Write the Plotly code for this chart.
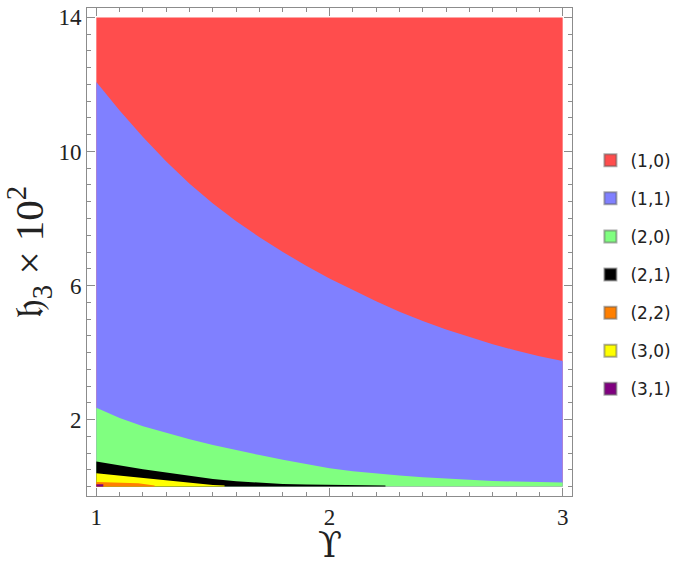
import plotly.graph_objects as go

# x grid (Upsilon)
x_grid = [1.0, 1.1, 1.2, 1.3, 1.4, 1.5, 1.6, 1.7, 1.8, 1.9, 2.0,
          2.1, 2.2, 2.3, 2.4, 2.5, 2.6, 2.7, 2.8, 2.9, 3.0]

# upper boundaries of each region (h3 x 10^2)
top_10 = [14.0] * 21
top_11 = [12.07, 11.22, 10.43, 9.70, 9.04, 8.45, 7.92, 7.44, 7.00, 6.59, 6.21,
          5.86, 5.53, 5.22, 4.94, 4.69, 4.46, 4.25, 4.06, 3.89, 3.75]
top_20 = [2.35, 2.05, 1.80, 1.60, 1.41, 1.24, 1.08, 0.94, 0.80, 0.67, 0.55,
          0.46, 0.39, 0.33, 0.28, 0.24, 0.20, 0.17, 0.15, 0.13, 0.12]
x_21 = [1.0, 1.1, 1.2, 1.3, 1.4, 1.5, 1.6, 1.7, 1.8, 1.9, 2.0, 2.1, 2.2, 2.24]
top_21 = [0.75, 0.63, 0.52, 0.42, 0.32, 0.23, 0.16, 0.11, 0.08, 0.06, 0.05, 0.04, 0.03, 0.03]
x_30 = [1.0, 1.1, 1.2, 1.3, 1.4, 1.5, 1.55]
top_30 = [0.40, 0.33, 0.26, 0.18, 0.12, 0.05, 0.03]
x_22 = [1.0, 1.1, 1.18, 1.25]
top_22 = [0.14, 0.12, 0.10, 0.03]
x_31 = [1.0, 1.03]
top_31 = [0.07, 0.07]

labels = ["(1,0)", "(1,1)", "(2,0)", "(2,1)", "(2,2)", "(3,0)", "(3,1)"]
colors = ["#ff4d4d", "#8080ff", "#80ff80", "#000000", "#ff7f00", "#ffff00", "#800080"]

fig = go.Figure()

regions = [
    (x_grid, top_10, colors[0]),
    (x_grid, top_11, colors[1]),
    (x_grid, top_20, colors[2]),
    (x_21, top_21, colors[3]),
    (x_30, top_30, colors[5]),
    (x_22, top_22, colors[4]),
    (x_31, top_31, colors[6]),
]
for xs, ys, c in regions:
    fig.add_trace(go.Scatter(x=xs, y=ys, mode="lines", fill="tozeroy",
                             fillcolor=c, line=dict(width=0, color=c),
                             showlegend=False, hoverinfo="skip"))

for i, (lab, c) in enumerate(zip(labels, colors)):
    fig.add_trace(go.Scatter(x=[None], y=[None], mode="markers", name=lab,
                             legendgroup=lab,
                             marker=dict(symbol="square", size=15, color=c,
                                         line=dict(width=1, color="rgba(90,90,90,0.5)"))))

axis_common = dict(showgrid=False, zeroline=False, showline=True, linecolor="#8c8c8c",
                   linewidth=1, mirror="allticks", ticks="inside", tickcolor="#8c8c8c",
                   ticklen=8, tickfont=dict(family="Liberation Serif", size=23, color="#222"))

fig.update_layout(
    width=681, height=562,
    margin=dict(l=87, r=103, t=5, b=66),
    paper_bgcolor="white", plot_bgcolor="white",
    xaxis=dict(range=[0.96, 3.04], tickvals=[1, 2, 3], ticktext=["1", "2", "3"],
               minor=dict(tickmode="linear", tick0=1, dtick=0.1, ticks="inside",
                          ticklen=4, tickcolor="#8c8c8c"),
               **axis_common),
    yaxis=dict(range=[-0.28, 14.28], tickvals=[2, 6, 10, 14], ticktext=["2", "6", "10", "14"],
               minor=dict(tickmode="linear", tick0=0, dtick=0.5, ticks="inside",
                          ticklen=4, tickcolor="#8c8c8c"),
               title=dict(text="𝔥<sub>3</sub> × 10<sup>2</sup>",
                          font=dict(family="Liberation Serif, DejaVu Serif", size=41, color="#222"),
                          standoff=4),
               **axis_common),
    legend=dict(x=1.038, xanchor="left", y=0.724, yanchor="top",
                font=dict(family="DejaVu Sans", size=17, color="#222"),
                tracegroupgap=13, itemsizing="constant", bgcolor="rgba(0,0,0,0)"),
    annotations=[dict(text="ϒ", x=2, xref="x", y=-0.1, yref="paper",
                      xanchor="center", yanchor="middle", showarrow=False,
                      font=dict(family="DejaVu Serif", size=35, color="#222"))],
)

fig.write_html("out.html")
